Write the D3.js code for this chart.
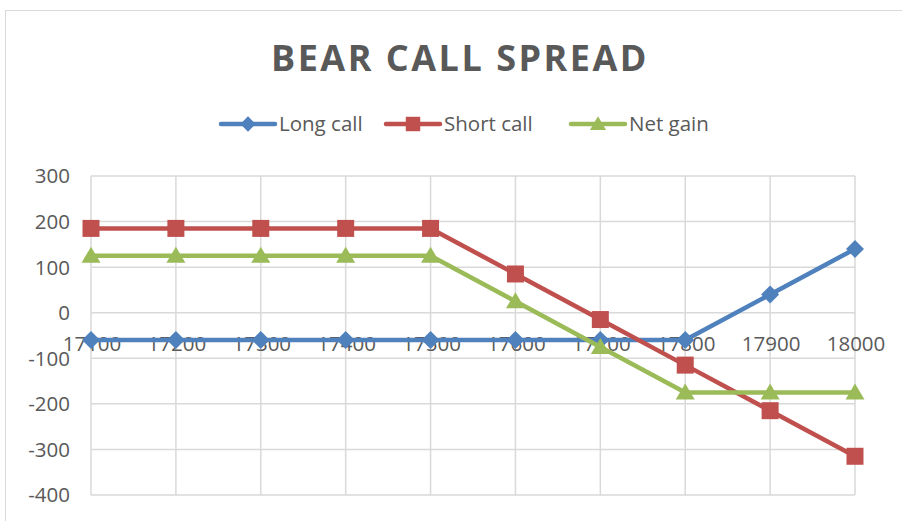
<!DOCTYPE html>
<html>
<head>
<meta charset="utf-8">
<script src="https://cdn.jsdelivr.net/npm/d3@7"></script>
<style>
  body { margin: 0; background: #fff; }
  svg { display: block; font-family: "Open Sans", "Liberation Sans", sans-serif; }
</style>
</head>
<body>
<div id="chart"></div>
<script>
const strikes = [17100, 17200, 17300, 17400, 17500, 17600, 17700, 17800, 17900, 18000];
const longCall = [-60, -60, -60, -60, -60, -60, -60, -60, 40, 140];
const shortCall = [185, 185, 185, 185, 185, 85, -15, -115, -215, -315];
const netGain = [125, 125, 125, 125, 125, 25, -75, -175, -175, -175];
const yTicks = [-400, -300, -200, -100, 0, 100, 200, 300];

// marker shapes, in px around the point
const diamond = "M0,-9L9,0L0,9L-9,0Z";
const square = "M-8.5,-8.5H8.5V8.5H-8.5Z";
const triangle = "M0,-9L9.5,7H-9.5Z";

const series = [
  { name: "Long call", values: longCall, color: "#4F81BD", marker: diamond },
  { name: "Short call", values: shortCall, color: "#C0504D", marker: square },
  { name: "Net gain", values: netGain, color: "#9BBB59", marker: triangle }
];

const width = 902;
const height = 521;
const margin = { top: 176, right: 47, bottom: 26, left: 91 };

const svg = d3.select("#chart")
  .append("svg")
  .attr("width", width)
  .attr("height", height);

// outer chart border
svg.append("rect")
  .attr("x", 5.5).attr("y", 10.5)
  .attr("width", width - 5).attr("height", height)
  .attr("fill", "#fff")
  .attr("stroke", "#d9d9d9");

const x = d3.scalePoint()
  .domain(strikes)
  .range([margin.left, width - margin.right]);

const y = d3.scaleLinear()
  .domain([-400, 300])
  .range([height - margin.bottom, margin.top]);

// gridlines
svg.append("g")
  .selectAll("line.hgrid")
  .data(yTicks)
  .join("line")
  .attr("class", "hgrid")
  .attr("x1", margin.left).attr("x2", width - margin.right)
  .attr("y1", d => y(d)).attr("y2", d => y(d))
  .attr("stroke", "#d9d9d9").attr("stroke-width", 1.5);

svg.append("g")
  .selectAll("line.vgrid")
  .data(strikes)
  .join("line")
  .attr("class", "vgrid")
  .attr("x1", d => x(d)).attr("x2", d => x(d))
  .attr("y1", y(300)).attr("y2", y(-400))
  .attr("stroke", "#d9d9d9").attr("stroke-width", 1.5);

// y axis labels
svg.append("g")
  .selectAll("text")
  .data(yTicks)
  .join("text")
  .attr("x", margin.left - 21)
  .attr("y", d => y(d))
  .attr("dy", "0.36em")
  .attr("text-anchor", "end")
  .attr("font-size", 20.5)
  .attr("fill", "#595959")
  .text(d => d);

// x axis labels, sitting under the zero line
svg.append("g")
  .selectAll("text")
  .data(strikes)
  .join("text")
  .attr("x", d => x(d) + 1)
  .attr("y", y(0) + 31)
  .attr("dy", "0.36em")
  .attr("text-anchor", "middle")
  .attr("font-size", 20.5)
  .attr("fill", "#595959")
  .text(d => d);

const line = d3.line()
  .x((d, i) => x(strikes[i]))
  .y(d => y(d));

series.forEach(s => {
  svg.append("path")
    .datum(s.values)
    .attr("d", line)
    .attr("fill", "none")
    .attr("stroke", s.color)
    .attr("stroke-width", 4.5)
    .attr("stroke-linejoin", "round");

  svg.append("g")
    .selectAll("path")
    .data(s.values)
    .join("path")
    .attr("transform", (d, i) => `translate(${x(strikes[i])},${y(d)})`)
    .attr("d", s.marker)
    .attr("fill", s.color);
});

// title
svg.append("text")
  .attr("x", 460)
  .attr("y", 71)
  .attr("text-anchor", "middle")
  .attr("font-size", 36)
  .attr("font-weight", "bold")
  .attr("letter-spacing", 2.5)
  .attr("fill", "#595959")
  .text("BEAR CALL SPREAD");

// legend
const legendX = [221, 386, 571];
const legend = svg.append("g");
series.forEach((s, i) => {
  const g = legend.append("g").attr("transform", `translate(${legendX[i]},124)`);
  g.append("line")
    .attr("x1", 0).attr("x2", 54)
    .attr("stroke", s.color).attr("stroke-width", 4.5)
    .attr("stroke-linecap", "round");
  g.append("path")
    .attr("transform", "translate(27,0) scale(0.85)")
    .attr("d", s.marker)
    .attr("fill", s.color);
  g.append("text")
    .attr("x", 58)
    .attr("dy", "0.36em")
    .attr("font-size", 20.5)
    .attr("fill", "#595959")
    .text(s.name);
});
</script>
</body>
</html>
